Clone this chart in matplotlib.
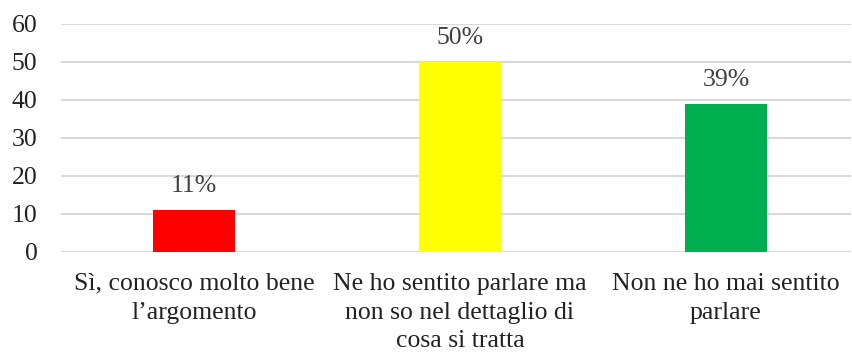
import matplotlib.pyplot as plt

categories = ["Sì, conosco molto bene\nl’argomento",
              "Ne ho sentito parlare ma\nnon so nel dettaglio di\ncosa si tratta",
              "Non ne ho mai sentito\nparlare"]
values = [11, 50, 39]
labels = ["11%", "50%", "39%"]
colors = ["#ff0000", "#ffff00", "#00b050"]

plt.rcParams['font.family'] = ['Liberation Serif', 'DejaVu Serif']

fig = plt.figure(figsize=(8.53, 3.55), dpi=100)
ax = fig.add_axes([61 / 853, 1 - 252 / 355, 790 / 853, 228 / 355])

x = range(len(values))
ax.bar(x, values, width=0.31, color=colors, zorder=3)
for i, v in enumerate(values):
    ax.text(i, v + 4.8, labels[i], ha='center', va='baseline',
            fontsize=18.5, color='#404040')

ax.set_xlim(-0.5, 2.47)
ax.set_ylim(0, 60)
ax.set_yticks(range(0, 61, 10))
ax.set_xticks(list(x))
ax.set_xticklabels(categories, fontsize=18.5, color='#222222', linespacing=1.4)
ax.tick_params(axis='both', length=0, labelsize=18.5, colors='#222222')
ax.tick_params(axis='y', pad=17)
ax.tick_params(axis='x', pad=15)
ax.grid(axis='y', color='#d9d9d9', linewidth=1.5, zorder=0)
for s in ax.spines.values():
    s.set_visible(False)
ax.set_axisbelow(True)

fig.savefig("out.png", dpi=100)
